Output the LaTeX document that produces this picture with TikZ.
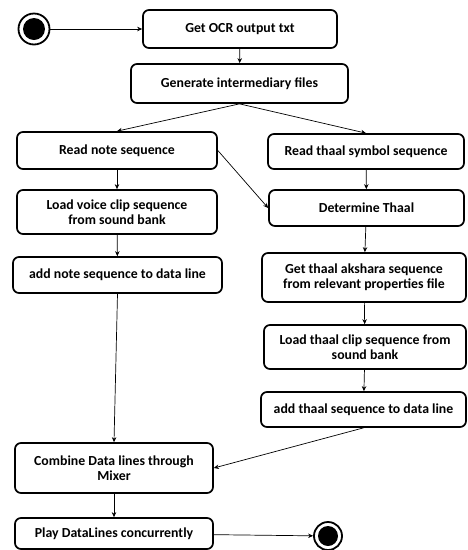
\documentclass[tikz,border=0pt]{standalone}
\usepackage{fontspec}
\setmainfont{Carlito}
\usetikzlibrary{arrows.meta}
\begin{document}
\begin{tikzpicture}[x=1pt,y=-1pt,
  box/.style={draw, line width=1.7pt, rounded corners=6pt, align=center,
    font=\bfseries\fontsize{13.8}{15}\selectfont, inner sep=0pt},
  conn/.style={draw, line width=0.7pt, -{Stealth[length=5pt,width=4.5pt]}},
  initnode/.style={circle, draw, line width=1.8pt, minimum size=31pt, inner sep=0pt,
    path picture={\fill (path picture bounding box.center) circle (11pt);}},
  finalnode/.style={circle, draw, line width=1.8pt, minimum size=28pt, inner sep=0pt,
    path picture={\fill (path picture bounding box.center) circle (10pt);}}]
\useasboundingbox (0,0) rectangle (468,550);
\node[initnode] (s) at (34,29) {};
\node[box, minimum width=194pt, minimum height=38pt] (b1) at (240,29) {Get OCR output txt};
\node[box, minimum width=217pt, minimum height=39pt] (b2) at (239.5,83.5) {Generate intermediary files};
\node[box, minimum width=200pt, minimum height=37pt] (b3) at (117,150.5) {Read note sequence};
\node[box, minimum width=196pt, minimum height=35pt] (b4) at (366,151.5) {Read thaal symbol sequence};
\node[box, minimum width=200pt, minimum height=44pt] (b5) at (117,212) {Load voice clip sequence\\from sound bank};
\node[box, minimum width=195pt, minimum height=36pt] (b6) at (366.5,208) {Determine Thaal};
\node[box, minimum width=209pt, minimum height=36pt] (b7) at (117.5,275) {add note sequence to data line};
\node[box, minimum width=204pt, minimum height=49pt] (b8) at (364,277.5) {Get thaal akshara sequence\\from relevant properties file};
\node[box, minimum width=202pt, minimum height=44pt] (b9) at (365,347) {Load thaal clip sequence from\\sound bank};
\node[box, minimum width=205pt, minimum height=35pt] (b10) at (363.5,409.5) {add thaal sequence to data line};
\node[box, minimum width=198pt, minimum height=50pt] (b11) at (114,468) {Combine Data lines through\\Mixer};
\node[box, minimum width=198pt, minimum height=31pt] (b12) at (114,533.5) {Play DataLines concurrently};
\node[finalnode] (e) at (328,536) {};
\path[conn] (s) -- (b1);
\path[conn] (b1) -- (b2);
\path[conn] (b2.south) -- (b3.north);
\path[conn] (b2.south) -- (b4.north);
\path[conn] (b3) -- (b5);
\path[conn] (b3.east) -- (b6.west);
\path[conn] (b4) -- (b6);
\path[conn] (b5) -- (b7);
\path[conn] (b6) -- (b8);
\path[conn] (b8) -- (b9);
\path[conn] (b9) -- (b10);
\path[conn] (b7.south) -- (b11.north);
\path[conn] (b10.south) -- (b11.east);
\path[conn] (b11) -- (b12);
\path[conn] (b12) -- (e);
\end{tikzpicture}
\end{document}
